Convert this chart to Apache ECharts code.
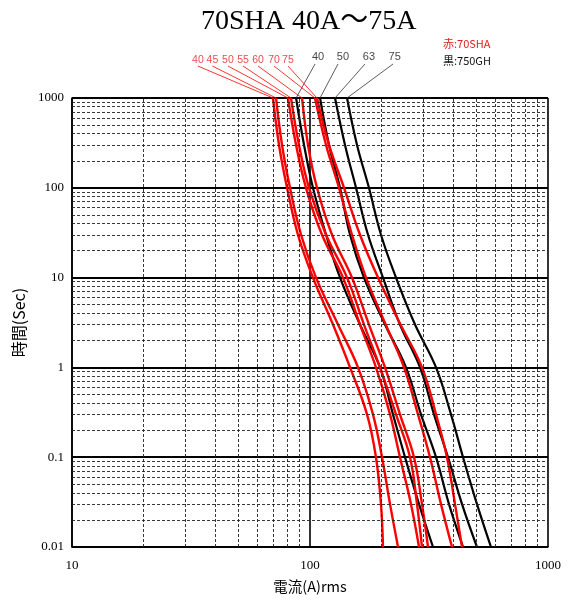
<!DOCTYPE html>
<html>
<head>
<meta charset="utf-8">
<script src="https://cdn.jsdelivr.net/npm/echarts@6/dist/echarts.min.js"></script>
<style>
html,body{margin:0;padding:0;background:#fff;}
#chart{width:573px;height:601px;}
</style>
</head>
<body>
<div id="chart"></div>
<script>
// Times (s) at which each curve's current was read
const times = [1000, 300, 100, 30, 10, 3, 1, 0.3, 0.1, 0.03, 0.01];

// Red: 70SHA
const red40 = [69.9, 74.1, 80.1, 89.0, 102.9, 124.9, 147.3, 173.6, 189.3, 198.7, 202.6];
const red45 = [72.0, 76.3, 82.4, 91.7, 106.0, 131.1, 159.1, 183.9, 200.7, 216.9, 234.3];
const red50 = [80.8, 87.4, 96.2, 112.3, 137.6, 162.2, 189.3, 216.9, 238.8, 265.7, 287.1];
const red55 = [83.2, 89.9, 99.0, 116.8, 143.1, 168.6, 196.8, 229.8, 263.1, 281.6, 295.5];
const red60 = [92.6, 98.1, 107.0, 123.7, 150.1, 176.9, 206.6, 238.8, 273.5, 295.5, 313.2];
const red70 = [104.9, 116.8, 132.4, 150.1, 171.9, 208.0, 248.3, 284.3, 319.3, 355.1, 395.0];
const red75 = [107.0, 120.2, 139.0, 162.2, 193.1, 240.0, 295.5, 338.4, 376.3, 406.7, 435.3];

// Black: 750GH
const blk40 = [87.4, 94.4, 102.9, 116.8, 133.7, 162.2, 196.8, 223.2, 250.7, 287.1, 328.7];
const blk50 = [110.2, 120.2, 133.7, 147.3, 168.6, 206.6, 253.1, 292.6, 338.4, 383.7, 439.5];
const blk63 = [127.4, 140.3, 156.1, 175.3, 202.6, 238.8, 289.8, 331.9, 380.0, 435.3, 503.0];
const blk75 = [143.1, 157.6, 176.9, 198.7, 229.8, 276.2, 338.4, 391.2, 439.5, 503.0, 576.0];

const redNames = ['40', '45', '50', '55', '60', '70', '75'];
const blkNames = ['40', '50', '63', '75'];

// Label anchor currents (label above the plot) and times
const redLabelI = [33.8, 38.9, 45.2, 52.3, 60.5, 70.6, 80.8];
const redLeaderT = 2270;
const redLabelT = 2650;
const blkLeaderI = [105.0, 131.1, 170.2, 223.2];
const blkLabelI = [108.1, 137.6, 176.9, 226.9];
const blkLeaderT = 2390;
const blkLabelT = 2860;

// Minor grid values
const minorX = [20, 30, 40, 50, 60, 70, 80, 90, 200, 300, 400, 500, 600, 700, 800, 900];
const minorY = [];
[0.01, 0.1, 1, 10, 100].forEach(d => { for (let k = 2; k <= 9; k++) minorY.push(+(d * k).toPrecision(3)); });

const redCurves = [red40, red45, red50, red55, red60, red70, red75];
const blkCurves = [blk40, blk50, blk63, blk75];

const RED = '#ff0000';
const BLK = '#000000';

function pts(arr) { return times.map((t, i) => [arr[i], t]); }
function fmt(v) { return String(Number(Number(v).toPrecision(6))); }

const series = [];

// minor grid
series.push({
  type: 'line', data: [], silent: true, z: 1,
  markLine: {
    silent: true, animation: false, symbol: ['none', 'none'],
    label: { show: false },
    lineStyle: { type: [3, 2], color: '#222', width: 0.9 },
    data: minorX.map(v => ({ xAxis: v })).concat(minorY.map(v => ({ yAxis: v })))
  }
});

blkCurves.forEach((c, i) => {
  series.push({
    name: 'blk' + blkNames[i], type: 'line', data: pts(c), smooth: 0.4,
    showSymbol: false, symbol: 'none', z: 3, animation: false,
    lineStyle: { color: BLK, width: 2.2 }
  });
  series.push({
    type: 'line', data: [[blkLeaderI[i], blkLeaderT], [c[0], times[0]]],
    clip: false, showSymbol: false, symbol: 'none', z: 3, animation: false, silent: true,
    lineStyle: { color: '#333', width: 0.8 }
  });
});
redCurves.forEach((c, i) => {
  series.push({
    name: 'red' + redNames[i], type: 'line', data: pts(c), smooth: 0.4,
    showSymbol: false, symbol: 'none', z: 4, animation: false,
    lineStyle: { color: RED, width: 2.4 }
  });
  series.push({
    type: 'line', data: [[redLabelI[i], redLeaderT], [c[0], times[0]]],
    clip: false, showSymbol: false, symbol: 'none', z: 4, animation: false, silent: true,
    lineStyle: { color: RED, width: 0.8 }
  });
});

// label texts
series.push({
  type: 'scatter', clip: false, symbolSize: 1, silent: true, animation: false, z: 5,
  itemStyle: { color: 'rgba(0,0,0,0)' },
  label: { show: true, position: 'inside', color: '#e02020', fontSize: 10.5, fontFamily: 'Liberation Sans, Arial, sans-serif',
    formatter: p => p.value[2] },
  data: redNames.map((n, i) => [redLabelI[i], redLabelT, n])
});
series.push({
  type: 'scatter', clip: false, symbolSize: 1, silent: true, animation: false, z: 5,
  itemStyle: { color: 'rgba(0,0,0,0)' },
  label: { show: true, position: 'inside', color: '#111', fontSize: 11, fontFamily: 'Liberation Sans, Arial, sans-serif',
    formatter: p => p.value[2] },
  data: blkNames.map((n, i) => [blkLabelI[i], blkLabelT, n])
});

const chart = echarts.init(document.getElementById('chart'), null, { renderer: 'canvas' });
chart.setOption({
  backgroundColor: '#fff',
  animation: false,
  title: {
    text: '70SHA 40A～75A', left: 196, top: 3,
    textStyle: { fontFamily: 'Liberation Serif, "Noto Sans CJK JP", serif', fontSize: 28, fontWeight: 'normal', color: '#000' }
  },
  graphic: [
    { type: 'text', left: 443, top: 38, style: { text: '赤:70SHA', fill: '#e02020', font: '11px "Noto Sans CJK JP", sans-serif' } },
    { type: 'text', left: 443, top: 55, style: { text: '黒:750GH', fill: '#111', font: '11px "Noto Sans CJK JP", sans-serif' } }
  ],
  grid: { left: 72, right: 25, top: 98, bottom: 54, containLabel: false },
  xAxis: {
    type: 'log', logBase: 10, min: 10, max: 1000,
    name: '電流(A)rms', nameLocation: 'middle', nameGap: 32,
    nameTextStyle: { fontFamily: '"Noto Sans CJK JP", sans-serif', fontSize: 14.5, color: '#000' },
    axisLine: { show: true, lineStyle: { color: '#000', width: 1.5 } },
    axisTick: { show: false },
    axisLabel: { color: '#000', fontFamily: 'Liberation Serif, serif', fontSize: 13, margin: 12, formatter: fmt },
    splitLine: { show: true, lineStyle: { color: '#000', width: 1.6 } }
  },
  yAxis: {
    type: 'log', logBase: 10, min: 0.01, max: 1000,
    name: '時間(Sec)', nameLocation: 'middle', nameGap: 45, nameRotate: 90,
    nameTextStyle: { fontFamily: '"Noto Sans CJK JP", sans-serif', fontSize: 16, color: '#000' },
    axisLine: { show: true, lineStyle: { color: '#000', width: 1.5 } },
    axisTick: { show: false },
    axisLabel: { color: '#000', fontFamily: 'Liberation Serif, serif', fontSize: 13, margin: 8, formatter: fmt },
    splitLine: { show: true, lineStyle: { color: '#000', width: 1.8 } }
  },
  series: series
});
</script>
</body>
</html>
